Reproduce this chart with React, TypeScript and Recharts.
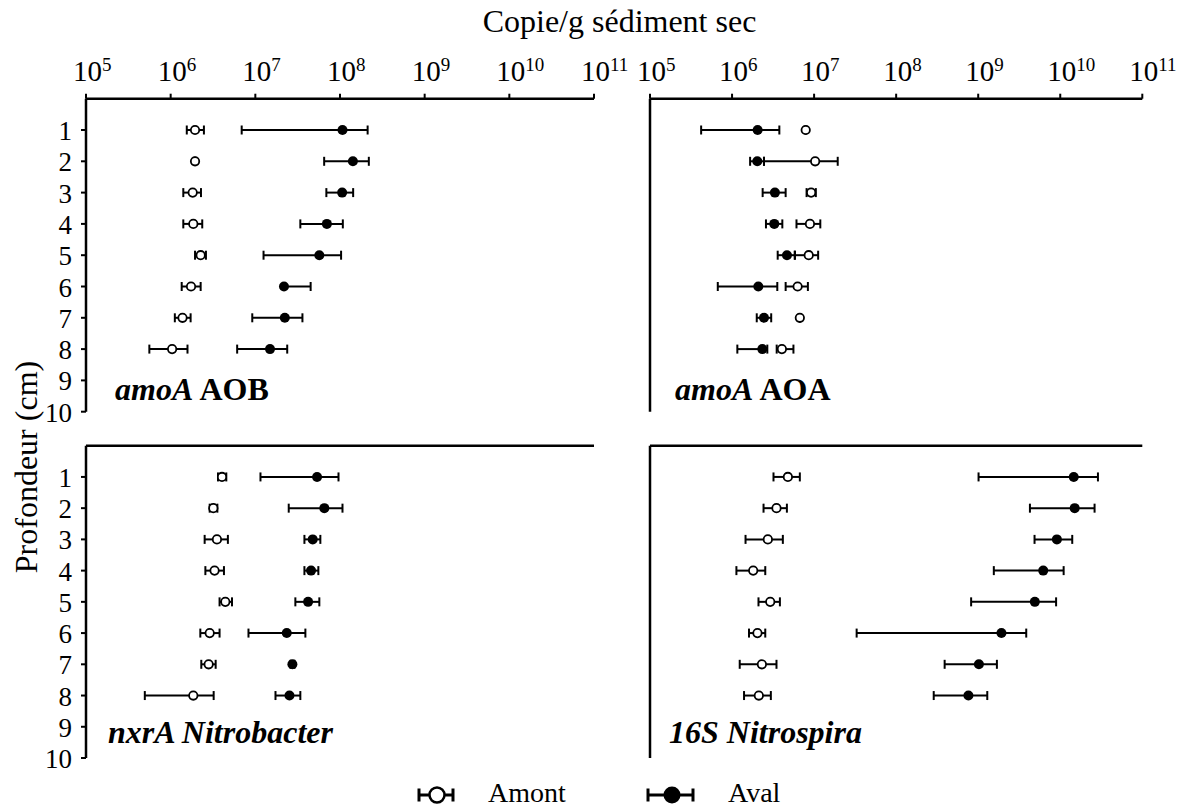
import React from 'react'
import { ErrorBar, Scatter, ScatterChart, XAxis, YAxis } from 'recharts'

const FONT = '"Liberation Serif", "Times New Roman", serif'

const DEPTHS = [1, 2, 3, 4, 5, 6, 7, 8]
const X_TICKS = [1e5, 1e6, 1e7, 1e8, 1e9, 1e10, 1e11]
const Y_TICKS = [1, 2, 3, 4, 5, 6, 7, 8, 9, 10]

// amoA AOB
const AOB_AMONT = [1.94e6, 1.94e6, 1.82e6, 1.85e6, 2.26e6, 1.74e6, 1.38e6, 1.04e6]
const AOB_AMONT_LOW = [1.55e6, 1.94e6, 1.41e6, 1.41e6, 1.94e6, 1.35e6, 1.12e6, 5.6e5]
const AOB_AMONT_HIGH = [2.47e6, 1.94e6, 2.28e6, 2.36e6, 2.61e6, 2.26e6, 1.72e6, 1.58e6]
const AOB_AVAL = [1.07e8, 1.42e8, 1.06e8, 7.0e7, 5.7e7, 2.18e7, 2.23e7, 1.49e7]
const AOB_AVAL_LOW = [6.9e6, 6.5e7, 6.9e7, 3.4e7, 1.25e7, 2.18e7, 9.2e6, 6.1e6]
const AOB_AVAL_HIGH = [2.12e8, 2.19e8, 1.43e8, 1.08e8, 1.03e8, 4.5e7, 3.6e7, 2.38e7]

// amoA AOA
const AOA_AMONT = [7.9e6, 1.03e7, 9.2e6, 8.9e6, 8.6e6, 6.3e6, 6.7e6, 4.05e6]
const AOA_AMONT_LOW = [7.9e6, 2.45e6, 8.1e6, 6.1e6, 5.8e6, 4.5e6, 6.7e6, 3.5e6]
const AOA_AMONT_HIGH = [7.9e6, 1.94e7, 1.05e7, 1.19e7, 1.12e7, 8.4e6, 6.7e6, 5.6e6]
const AOA_AVAL = [2.05e6, 2.03e6, 3.33e6, 3.27e6, 4.67e6, 2.09e6, 2.45e6, 2.34e6]
const AOA_AVAL_LOW = [4.2e5, 1.66e6, 2.36e6, 2.59e6, 3.6e6, 6.7e5, 2.0e6, 1.16e6]
const AOA_AVAL_HIGH = [3.77e6, 2.45e6, 4.5e6, 4.1e6, 5.85e6, 3.56e6, 3.0e6, 2.69e6]

// nxrA Nitrobacter
const NXR_AMONT = [4.04e6, 3.19e6, 3.52e6, 3.3e6, 4.42e6, 2.89e6, 2.81e6, 1.85e6]
const NXR_AMONT_LOW = [3.62e6, 2.89e6, 2.52e6, 2.57e6, 3.78e6, 2.24e6, 2.3e6, 4.95e5]
const NXR_AMONT_HIGH = [4.54e6, 3.56e6, 4.74e6, 4.26e6, 5.3e6, 3.78e6, 3.4e6, 3.22e6]
const NXR_AVAL = [5.36e7, 6.53e7, 4.76e7, 4.55e7, 4.2e7, 2.35e7, 2.74e7, 2.53e7]
const NXR_AVAL_LOW = [1.15e7, 2.48e7, 3.8e7, 3.8e7, 2.97e7, 8.3e6, 2.6e7, 1.73e7]
const NXR_AVAL_HIGH = [9.6e7, 1.07e8, 5.86e7, 5.55e7, 5.7e7, 3.9e7, 2.9e7, 3.4e7]

// 16S Nitrospira
const NIT_AMONT = [4.79e6, 3.48e6, 2.73e6, 1.81e6, 2.92e6, 2.04e6, 2.31e6, 2.12e6]
const NIT_AMONT_LOW = [3.2e6, 2.42e6, 1.46e6, 1.13e6, 2.1e6, 1.61e6, 1.24e6, 1.4e6]
const NIT_AMONT_HIGH = [6.7e6, 4.66e6, 4.16e6, 2.54e6, 3.83e6, 2.54e6, 3.48e6, 2.97e6]
const NIT_AVAL = [1.46e10, 1.5e10, 9.1e9, 6.2e9, 4.9e9, 1.92e9, 1.02e9, 7.6e8]
const NIT_AVAL_LOW = [1.01e9, 4.27e9, 4.86e9, 1.55e9, 8.2e8, 3.3e7, 3.9e8, 2.87e8]
const NIT_AVAL_HIGH = [2.88e10, 2.62e10, 1.4e10, 1.1e10, 8.9e9, 3.85e9, 1.69e9, 1.29e9]

function rows(mean: number[], low: number[], high: number[]) {
  return DEPTHS.map((d, i) => ({
    y: d,
    x: mean[i],
    err: [mean[i] - low[i], high[i] - mean[i]],
  }))
}

const OpenDot = (p: any) => (
  <circle cx={p.cx} cy={p.cy} r={4.2} fill="#fff" stroke="#000" strokeWidth={1.8} />
)
const FilledDot = (p: any) => <circle cx={p.cx} cy={p.cy} r={5} fill="#000" />

const PowTick = (p: any) => {
  const exp = Math.round(Math.log10(p.payload.value))
  return (
    <text x={p.x - 13} y={p.y - 10.5} fontFamily={FONT} fontSize={29} fill="#000">
      <tspan>10</tspan>
      <tspan dy={-10} fontSize={19}>
        {exp}
      </tspan>
    </text>
  )
}

const DepthTick = (p: any) => (
  <text x={p.x - 7} y={p.y + 10} textAnchor="end" fontFamily={FONT} fontSize={27} fill="#000">
    {p.payload.value}
  </text>
)

type PanelProps = {
  left: number
  top: number
  width: number
  height: number
  axisH: number
  yW: number
  right: number
  bottom: number
  xLabels: boolean
  yLabels: boolean
  amont: ReturnType<typeof rows>
  aval: ReturnType<typeof rows>
}

function Panel(p: PanelProps) {
  const line = { stroke: '#000', strokeWidth: 2.5 }
  return (
    <div style={{ position: 'absolute', left: p.left, top: p.top }}>
      <ScatterChart
        width={p.width}
        height={p.height}
        margin={{ top: 0, left: 0, right: p.right, bottom: p.bottom }}
      >
        <XAxis
          dataKey="x"
          type="number"
          scale="log"
          domain={[1e5, 1e11]}
          allowDataOverflow
          ticks={X_TICKS}
          interval={0}
          orientation="top"
          height={p.axisH}
          tickSize={5}
          axisLine={line}
          tickLine={{ stroke: '#000', strokeWidth: 2 }}
          tick={p.xLabels ? PowTick : false}
        />
        <YAxis
          dataKey="y"
          type="number"
          domain={[0, 10]}
          reversed
          ticks={Y_TICKS}
          interval={0}
          width={p.yW}
          tickSize={5}
          axisLine={line}
          tickLine={{ stroke: '#000', strokeWidth: 2 }}
          tick={p.yLabels ? DepthTick : false}
        />
        <Scatter data={p.amont} shape={OpenDot} isAnimationActive={false}>
          <ErrorBar dataKey="err" direction="x" width={4.5} strokeWidth={2} stroke="#000" isAnimationActive={false} />
        </Scatter>
        <Scatter data={p.aval} shape={FilledDot} isAnimationActive={false}>
          <ErrorBar dataKey="err" direction="x" width={4.5} strokeWidth={2} stroke="#000" isAnimationActive={false} />
        </Scatter>
      </ScatterChart>
    </div>
  )
}

export default function App() {
  return (
    <div
      style={{
        position: 'absolute',
        left: 0,
        top: 0,
        width: 1199,
        height: 809,
        background: '#fff',
        fontFamily: FONT,
      }}
    >
      <Panel
        left={0}
        top={0}
        width={640}
        height={430}
        axisH={98.7}
        yW={86}
        right={46}
        bottom={18.3}
        xLabels
        yLabels
        amont={rows(AOB_AMONT, AOB_AMONT_LOW, AOB_AMONT_HIGH)}
        aval={rows(AOB_AVAL, AOB_AVAL_LOW, AOB_AVAL_HIGH)}
      />
      <Panel
        left={600}
        top={0}
        width={599}
        height={430}
        axisH={98.7}
        yW={50}
        right={56.7}
        bottom={18.3}
        xLabels
        yLabels={false}
        amont={rows(AOA_AMONT, AOA_AMONT_LOW, AOA_AMONT_HIGH)}
        aval={rows(AOA_AVAL, AOA_AVAL_LOW, AOA_AVAL_HIGH)}
      />
      <Panel
        left={0}
        top={420}
        width={640}
        height={360}
        axisH={25.7}
        yW={86}
        right={46}
        bottom={22}
        xLabels={false}
        yLabels
        amont={rows(NXR_AMONT, NXR_AMONT_LOW, NXR_AMONT_HIGH)}
        aval={rows(NXR_AVAL, NXR_AVAL_LOW, NXR_AVAL_HIGH)}
      />
      <Panel
        left={600}
        top={420}
        width={599}
        height={360}
        axisH={25.7}
        yW={50}
        right={56.7}
        bottom={22}
        xLabels={false}
        yLabels={false}
        amont={rows(NIT_AMONT, NIT_AMONT_LOW, NIT_AMONT_HIGH)}
        aval={rows(NIT_AVAL, NIT_AVAL_LOW, NIT_AVAL_HIGH)}
      />
      <svg
        width={1199}
        height={809}
        style={{ position: 'absolute', left: 0, top: 0, pointerEvents: 'none' }}
        fontFamily={FONT}
      >
        <text x={619.5} y={32} textAnchor="middle" fontSize={32}>
          Copie/g sédiment sec
        </text>
        <text transform="translate(37,467) rotate(-90)" textAnchor="middle" fontSize={32}>
          Profondeur (cm)
        </text>
        <text x={115} y={400} fontSize={32} fontWeight="bold">
          <tspan fontStyle="italic">amoA</tspan> AOB
        </text>
        <text x={675} y={400} fontSize={32} fontWeight="bold">
          <tspan fontStyle="italic">amoA</tspan> AOA
        </text>
        <text x={108} y={743} fontSize={32} fontWeight="bold" fontStyle="italic">
          nxrA Nitrobacter
        </text>
        <text x={669} y={743} fontSize={32} fontWeight="bold" fontStyle="italic">
          16S Nitrospira
        </text>
        {/* legend */}
        <g stroke="#000" strokeWidth={3}>
          <line x1={419} y1={795} x2={453} y2={795} />
          <line x1={419} y1={788.5} x2={419} y2={801.5} />
          <line x1={453} y1={788.5} x2={453} y2={801.5} />
          <circle cx={437} cy={795} r={7.5} fill="#fff" strokeWidth={2.5} />
          <line x1={648} y1={795} x2={693} y2={795} />
          <line x1={648} y1={788.5} x2={648} y2={801.5} />
          <line x1={693} y1={788.5} x2={693} y2={801.5} />
          <circle cx={672} cy={795} r={8.5} fill="#000" stroke="none" />
        </g>
        <text x={488} y={802} fontSize={28}>
          Amont
        </text>
        <text x={728} y={802} fontSize={28}>
          Aval
        </text>
      </svg>
    </div>
  )
}
